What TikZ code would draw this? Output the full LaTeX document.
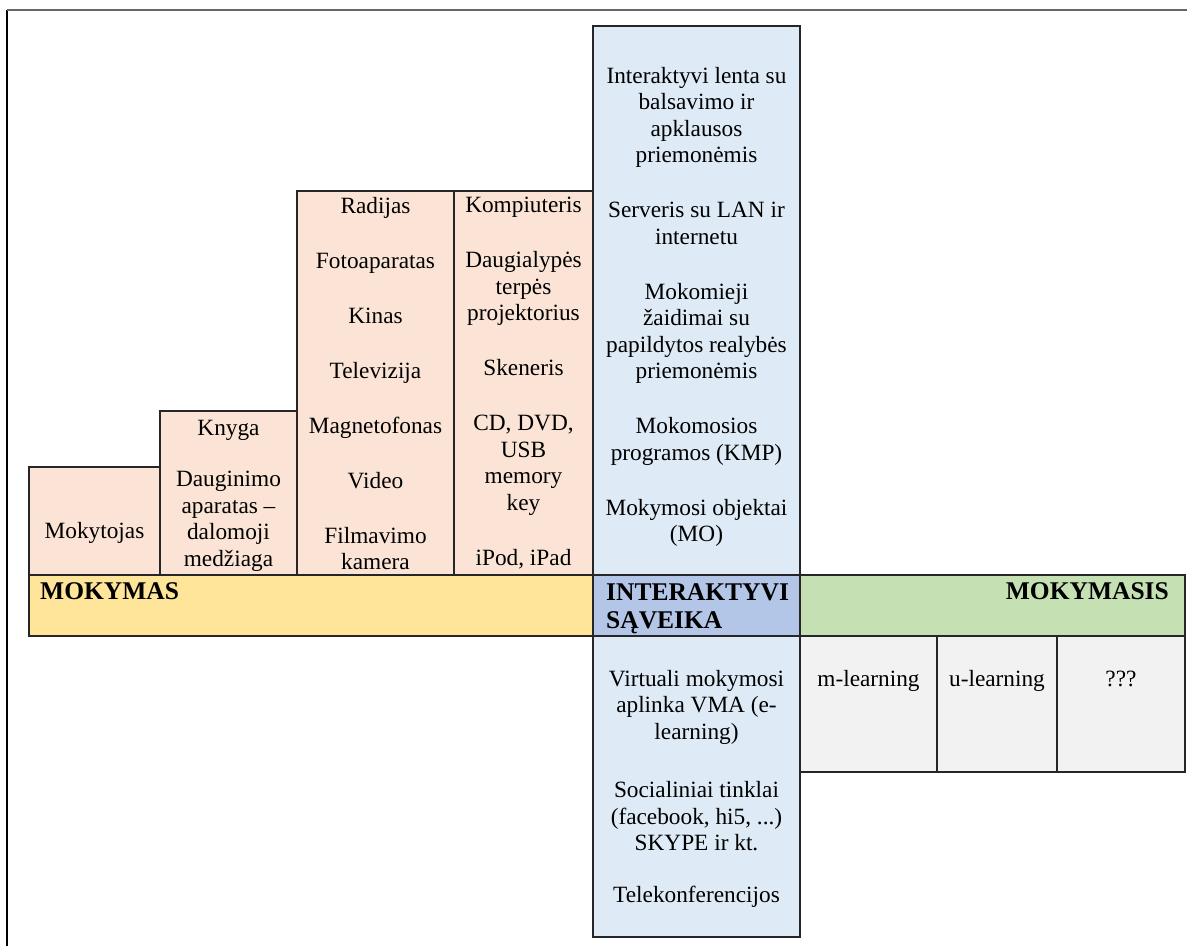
\documentclass[tikz,border=0pt]{standalone}
\usepackage{fontspec}
\setmainfont{Liberation Serif}
\definecolor{peach}{HTML}{FBE4D5}
\definecolor{paleblue}{HTML}{DEEAF6}
\definecolor{gold}{HTML}{FFE599}
\definecolor{midblue}{HTML}{B4C6E7}
\definecolor{sage}{HTML}{C5E0B3}
\definecolor{ltgray}{HTML}{F2F2F2}
\begin{document}
\begin{tikzpicture}[x=1pt, y=-1pt,
    cell/.style={draw=black!85, line width=1.3pt},
    txt/.style={inner sep=0pt, align=center, font=\fontsize{23.3}{26.5}\selectfont},
    hdr/.style={inner sep=0pt, align=left, font=\fontsize{25.5}{28}\selectfont\bfseries}]
  \useasboundingbox (0,0) rectangle (1187,946);
  \draw[line width=1.5pt] (7,946) -- (7,10);
  \draw[black!60, line width=2pt] (7,10) -- (1187,10);
  % upper part
  \draw[cell, fill=peach] (29,467) rectangle (160,575)
                          (160,411) rectangle (297,575)
                          (297,191) rectangle (454,575)
                          (454,191) rectangle (593,575);
  \draw[cell, fill=paleblue] (593,26) rectangle (800,575);
  % middle bar
  \draw[cell, fill=gold] (29,575) rectangle (593,636);
  \draw[cell, fill=midblue] (593,575) rectangle (800,636);
  \draw[cell, fill=sage] (800,575) rectangle (1185,636);
  % lower part
  \draw[cell, fill=paleblue] (593,636) rectangle (800,937);
  \draw[cell, fill=ltgray] (800,636) rectangle (937,772)
                           (937,636) rectangle (1057,772)
                           (1057,636) rectangle (1185,772);

  \node[txt, anchor=base] (mok) at (94.5,538) {Mokytojas};
  \node[txt, anchor=north] (kny) at (228.5,420)
    {Knyga\\[25pt] Dauginimo\\aparatas –\\dalomoji\\medžiaga};
  \node[txt, anchor=north] (rad) at (375.5,197)
    {Radijas\\[28.5pt] Fotoaparatas\\[28.5pt] Kinas\\[28.5pt] Televizija\\[28.5pt]
     Magnetofonas\\[28.5pt] Video\\[28.5pt] Filmavimo\\kamera};
  \node[txt, anchor=north] (komp) at (523.5,197)
    {Kompiuteris\\[28.5pt] Daugialypės\\terpės\\projektorius\\[28.5pt] Skeneris\\[28.5pt]
     CD, DVD,\\USB\\memory\\key\\[28.5pt] iPod, iPad};
  \node[txt, anchor=north] (ivl) at (696.5,67)
    {Interaktyvi lenta su\\balsavimo ir\\apklausos\\priemonėmis\\[28.5pt]
     Serveris su LAN ir\\internetu\\[28.5pt] Mokomieji\\žaidimai su\\papildytos realybės\\priemonėmis\\[28.5pt]
     Mokomosios\\programos (KMP)\\[28.5pt] Mokymosi objektai\\(MO)};

  \node[hdr, anchor=west] (mkm) at (40,591) {MOKYMAS};
  \node[hdr, anchor=north west] (isv) at (606,583) {INTERAKTYVI\\SĄVEIKA};
  \node[hdr, anchor=east] (mks) at (1169,591) {MOKYMASIS};

  \node[txt, anchor=north] (vma) at (696.5,670)
    {Virtuali mokymosi\\aplinka VMA (e-\\learning)\\[32pt] Socialiniai tinklai\\(facebook, hi5, ...)\\SKYPE ir kt.\\[25.5pt]
     Telekonferencijos};
  \node[txt, anchor=base] (ml) at (868.5,686) {m-learning};
  \node[txt, anchor=base] (ul) at (997,686) {u-learning};
  \node[txt, anchor=base] (qq) at (1121,686) {???};
\end{tikzpicture}
\end{document}
